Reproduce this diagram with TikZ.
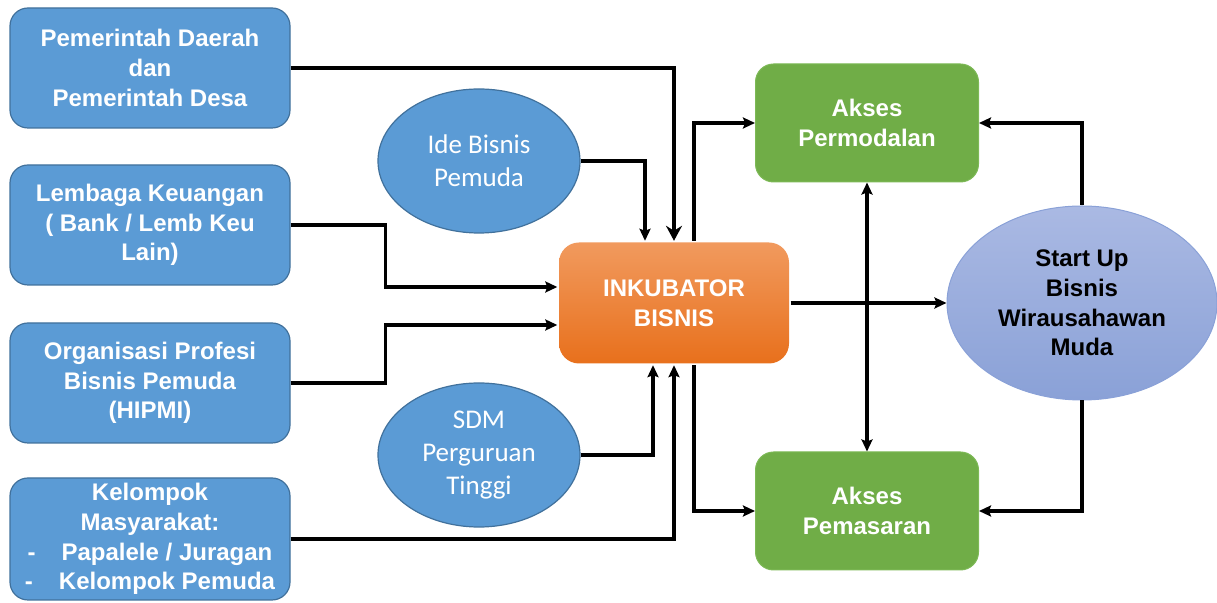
\documentclass[tikz,border=0pt]{standalone}
\usepackage{fontspec}
\setmainfont{Liberation Sans}
\newfontfamily\lightfont{Carlito}
\usetikzlibrary{arrows.meta, shapes.geometric, calc, positioning}
\definecolor{ibBlue}{HTML}{5B9BD5}
\definecolor{ibBlueEdge}{HTML}{41719C}
\definecolor{ibGreen}{HTML}{70AD47}
\definecolor{ibGreenEdge}{HTML}{7DB956}
\definecolor{ibOrangeTop}{HTML}{F19A5E}
\definecolor{ibOrangeBot}{HTML}{E8701C}
\definecolor{ibLilacTop}{HTML}{AAB9E3}
\definecolor{ibLilacBot}{HTML}{8AA1D7}
\tikzset{
  % pixel grid of the reference: 1 unit = 0.5pt, y running downwards
  every picture/.append style = {line width=1.7pt, >={Stealth[length=6pt, width=5.5pt, inset=1pt]}},
  boxtext/.style  = {font=\bfseries\fontsize{12}{14.8}\selectfont},
  srcbox/.style   = {rectangle, rounded corners=9pt, fill=ibBlue, draw=ibBlueEdge,
                     line width=0.6pt, minimum width=140pt, minimum height=60pt,
                     inner sep=0pt, text=white, align=center, boxtext},
  idea/.style     = {ellipse, fill=ibBlue, draw=ibBlueEdge, line width=0.6pt,
                     minimum width=101pt, minimum height=72pt, inner sep=0pt,
                     text=white, align=center, font=\lightfont\fontsize{13.5}{16.5}\selectfont},
  hub/.style      = {rectangle, rounded corners=10pt, top color=ibOrangeTop,
                     bottom color=ibOrangeBot, draw=none, minimum width=115pt,
                     minimum height=60.5pt, inner sep=0pt, text=white, align=center, boxtext},
  outbox/.style   = {rectangle, rounded corners=9pt, fill=ibGreen, draw=ibGreenEdge,
                     line width=0.5pt, minimum width=111.5pt, minimum height=59pt,
                     inner sep=0pt, text=white, align=center, boxtext},
  goal/.style     = {ellipse, top color=ibLilacTop, bottom color=ibLilacBot,
                     draw=ibLilacBot, line width=0.5pt, minimum width=135pt,
                     minimum height=97pt, inner sep=0pt, text=black, align=center, boxtext},
  flow/.style     = {->, line width=1.7pt, black},
  flowbig/.style  = {-{Stealth[length=7.5pt, width=8pt, inset=2.5pt]}, line width=1.7pt, black},
  flowboth/.style = {<->, line width=1.7pt, black},
}
\begin{document}
\begin{tikzpicture}[x=0.5pt, y=-0.5pt]
  \useasboundingbox (0,0) rectangle (1217,603);
  % --- sources on the left ------------------------------------------------
  \node[srcbox] (pemda)    at (150,68)  {Pemerintah Daerah\\dan\\Pemerintah Desa};
  \node[srcbox] (lembaga)  at (150,225) {Lembaga Keuangan\\( Bank / Lemb Keu\\Lain)};
  \node[srcbox] (hipmi)    at (150,383) {Organisasi Profesi\\Bisnis Pemuda\\(HIPMI)};
  \node[srcbox, minimum height=61pt] (kelompok) at (150,539)
    {Kelompok\\Masyarakat:\\-\hspace{13pt}Papalele / Juragan\\-\hspace{13pt}Kelompok Pemuda};
  % --- ideas and people ----------------------------------------------------
  \node[idea] (ide) at (479,161) {Ide Bisnis\\Pemuda};
  \node[idea] (sdm) at (479,455) {SDM\\Perguruan\\Tinggi};
  % --- incubator and outcomes ---------------------------------------------
  \node[hub]    (inkub)   at (674,303)  {INKUBATOR\\BISNIS};
  \node[outbox] (modal)   at (867,123)  {Akses\\Permodalan};
  \node[outbox] (pasar)   at (867,511)  {Akses\\Pemasaran};
  \node[goal]   (startup) at (1082,303) {Start Up\\Bisnis\\Wirausahawan\\Muda};
  % --- connectors into the incubator ----------------------------------------
  \draw[flowbig] (pemda.east) -| (inkub.north);
  \draw[flow] (ide.east) -| ($(inkub.north)+(-29,0)$);
  \draw[flow] (lembaga.east) -- ++(95,0) |- ($(inkub.west)+(0,-16)$);
  \draw[flow] (hipmi.east) -- ++(95,0) |- ($(inkub.west)+(0,22)$);
  \draw[flow] (sdm.east) -| ($(inkub.south)+(-21,0)$);
  \draw[flow] (kelompok.east) -| (inkub.south);
  % --- connectors out of the incubator ------------------------------------
  \draw[flow] ($(inkub.north)+(20,0)$) |- (modal.west);
  \draw[flow] ($(inkub.south)+(20,0)$) |- (pasar.west);
  \draw[flow] (inkub.east) -- (startup.west);
  \draw[flowboth] (modal.south) -- (pasar.north);
  \draw[flow] (startup.north) |- (modal.east);
  \draw[flow] (startup.south) |- (pasar.east);
\end{tikzpicture}
\end{document}
